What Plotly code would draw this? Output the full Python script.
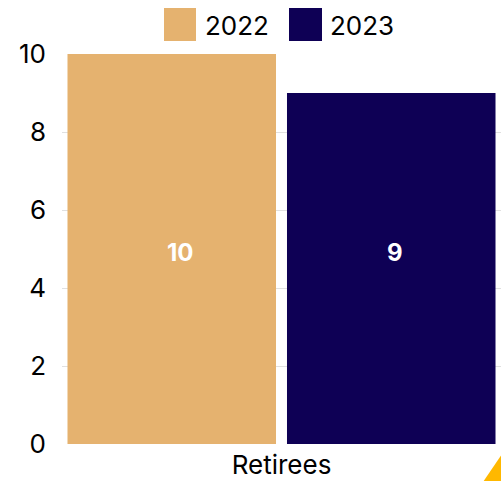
import plotly.graph_objects as go

categories = ["Retirees"]
series_names = ["2022", "2023"]
values_2022 = [10]
values_2023 = [9]
colors = ["#E5B26F", "#0E0055"]
y_ticks = [0, 2, 4, 6, 8, 10]

fig = go.Figure()
for name, vals, col in zip(series_names, [values_2022, values_2023], colors):
    fig.add_trace(go.Bar(
        x=categories, y=vals, name=name, marker=dict(color=col, line=dict(width=0)),
        showlegend=False,
    ))

L, W, T, H = 62, 439, 54, 390
def px(x):
    return (x - L) / W
def py(y):
    return (T + H - y) / H

# value labels, at the vertical middle of the plot
label_shifts = [-101, 113]
for vals, sh in zip([values_2022, values_2023], label_shifts):
    fig.add_annotation(x=categories[0], y=4.9, text=f"<b>{vals[0]}</b>", showarrow=False,
                       xshift=sh, font=dict(family="Inter", size=24, color="white"))

# custom legend with large square swatches
legend_pos = [(164, 196, 203), (289, 322, 328)]
for (x0, x1, tx), name, col in zip(legend_pos, series_names, colors):
    fig.add_shape(type="rect", xref="paper", yref="paper",
                  x0=px(x0), x1=px(x1), y0=py(41), y1=py(8),
                  fillcolor=col, line=dict(width=0))
    fig.add_annotation(xref="paper", yref="paper", x=px(tx), y=py(25),
                       text=name, showarrow=False, xanchor="left", yanchor="middle",
                       font=dict(family="Inter", size=26, color="#000000"))

# partially visible corner triangle
fig.add_shape(type="path", xref="paper", yref="paper",
              path=f"M {px(483)} {py(482)} L {px(502)} {py(454)} L {px(502)} {py(482)} Z",
              fillcolor="#FFB800", line=dict(width=0))

fig.update_layout(
    width=501, height=481,
    margin=dict(l=L, r=0, t=T, b=481 - T - H),
    paper_bgcolor="white", plot_bgcolor="white",
    barmode="group", bargap=0, bargroupgap=0.05,
    font=dict(family="Inter", size=26, color="#000000"),
    xaxis=dict(showgrid=False, showline=False, ticks="", tickfont=dict(size=26),
               ticklabelstandoff=3, automargin=False),
    yaxis=dict(range=[0, 10], tickvals=y_ticks, showgrid=True, gridcolor="#E0E0E0",
               zeroline=False, showline=False, ticks="", ticklabelstandoff=15,
               tickfont=dict(size=26), automargin=False),
    showlegend=False,
)

fig.write_html("out.html")
